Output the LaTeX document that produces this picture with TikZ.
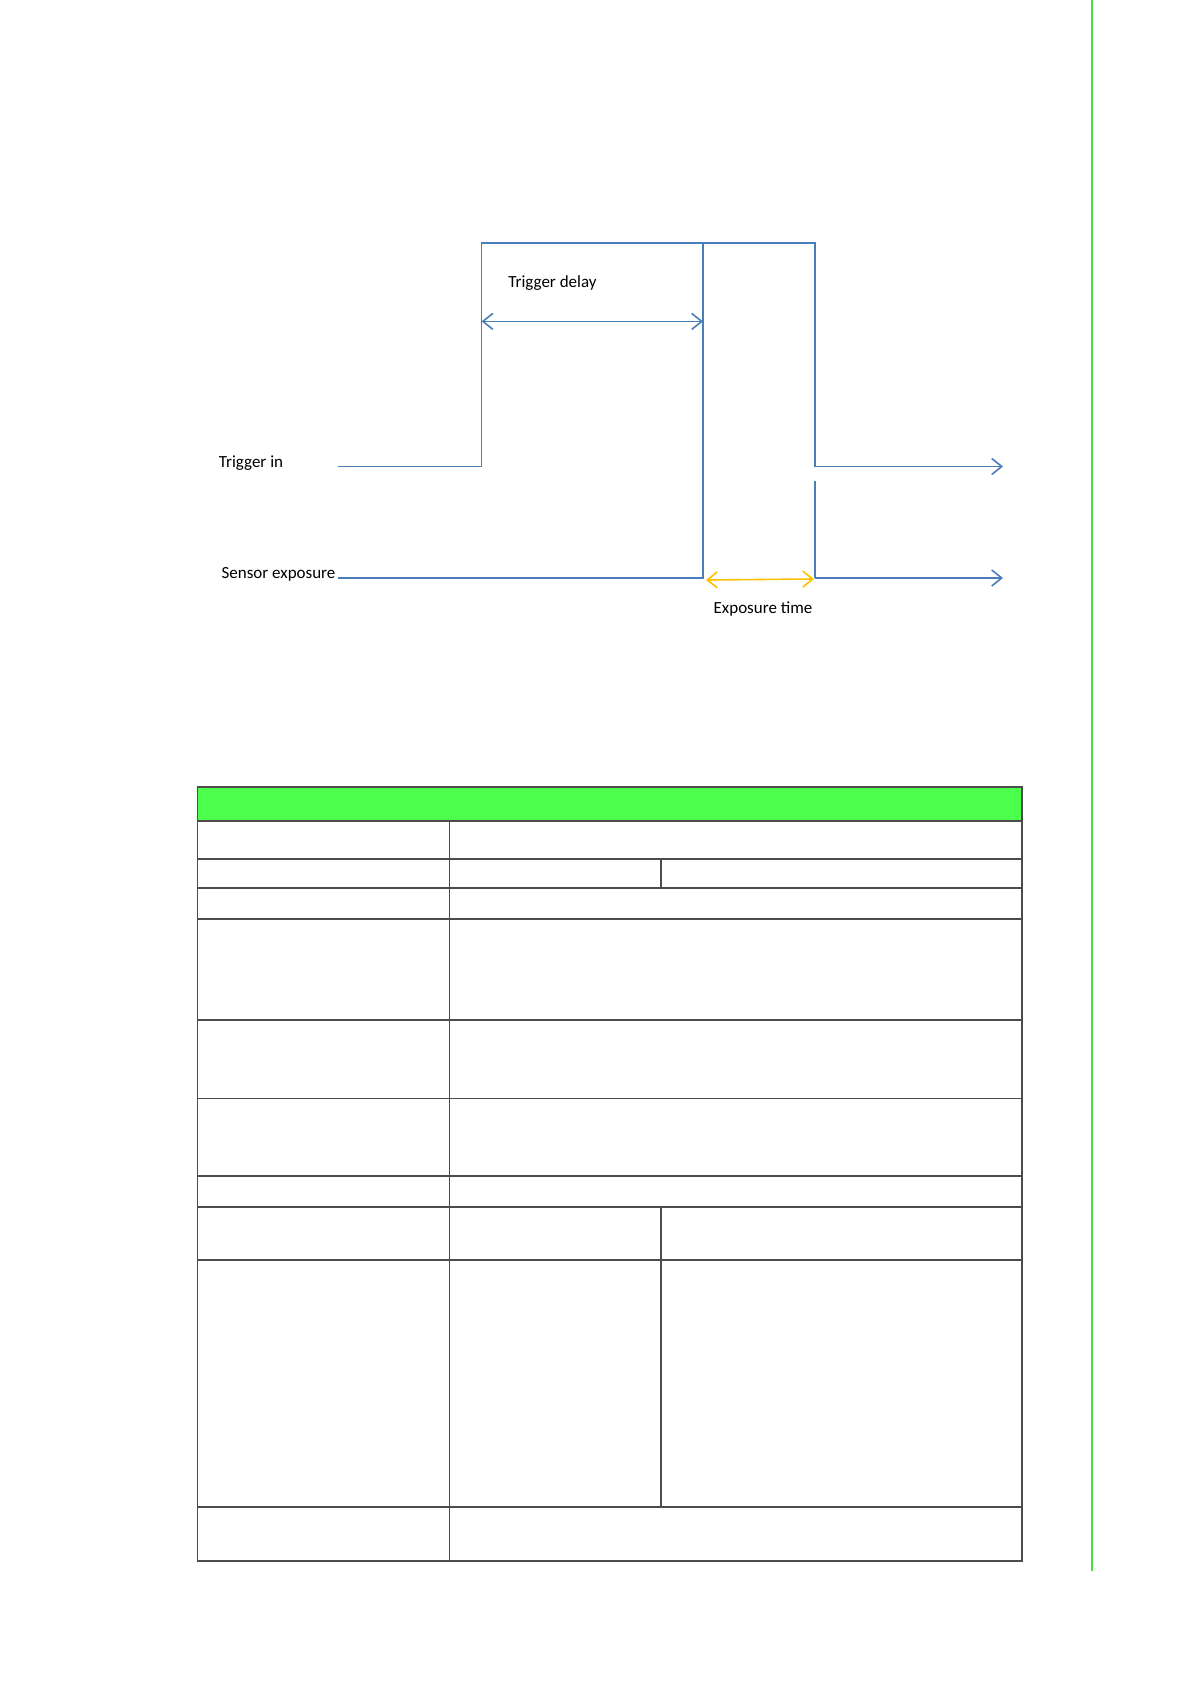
\documentclass[tikz,border=0pt]{standalone}
\usepackage{fontspec}
\setmainfont{Carlito}
\usetikzlibrary{arrows.meta}
\definecolor{sig}{HTML}{4A7EBB}
\definecolor{expo}{HTML}{FFC000}
\definecolor{hdr}{HTML}{4CFF4C}
\definecolor{bar}{HTML}{44E044}
\tikzset{sigline/.style={sig,line width=0.8pt},
 tip/.style={-{Straight Barb[length=5pt,width=8pt]}},
 lbl/.style={font=\fontsize{8.5}{10}\selectfont,inner sep=0pt},
 grid/.style={draw=black!70,line width=0.6pt}}
\begin{document}
\begin{tikzpicture}[x=0.5pt,y=-0.5pt]
\useasboundingbox (0,0) rectangle (1191,1684);
\draw[bar,line width=1.2pt] (1092,0) -- (1092,1571);
% signals
\coordinate (t0) at (337.5,466.5); \coordinate (t1) at (481.6,466.5);
\coordinate (t2) at (481.6,243); \coordinate (t3) at (815,243);
\coordinate (t4) at (815,466.5); \coordinate (t5) at (1003,466.5);
\coordinate (d0) at (703,243); \coordinate (d1) at (703,578);
\coordinate (s0) at (337.5,578); \coordinate (e0) at (815,480.5);
\coordinate (e1) at (815,578); \coordinate (s5) at (1003,578);
\draw[sigline] (t0) -- (t1) -- (t2) -- (t3) -- (t4);
\draw[sigline,tip] (t4) -- (t5);
\draw[sigline] (d0) -- (d1) -- (s0);
\draw[sigline] (e0) -- (e1);
\draw[sigline,tip] (e1) -- (s5);
\coordinate (a0) at (481.6,321.4); \coordinate (a1) at (703,321.4);
\draw[sigline,{Straight Barb[length=5pt,width=8pt]}-{Straight Barb[length=5pt,width=8pt]}] (a0) -- (a1);
\coordinate (x0) at (706,580); \coordinate (x1) at (814,579);
\draw[expo,line width=0.8pt,{Straight Barb[length=5pt,width=8pt]}-{Straight Barb[length=5pt,width=8pt]}] (x0) -- (x1);
\node[lbl] (ltd) at (552.5,283) {Trigger delay};
\node[lbl] (lti) at (251,463) {Trigger in};
\node[lbl] (lse) at (278.5,574) {Sensor exposure};
\node[lbl] (let) at (763,608.5) {Exposure time};
% table
\fill[hdr] (197.8,787) rectangle (1022,821);
\draw[grid] (197.8,787) rectangle (1022,1561);
\foreach \y in {821,859,888,919,1020,1098.7,1176,1207,1260,1507}
  \draw[grid] (197.8,\y) -- (1022,\y);
\draw[grid] (449.4,821) -- (449.4,1561);
\draw[grid] (661,859) -- (661,888);
\draw[grid] (661,1207) -- (661,1507);
\end{tikzpicture}
\end{document}
